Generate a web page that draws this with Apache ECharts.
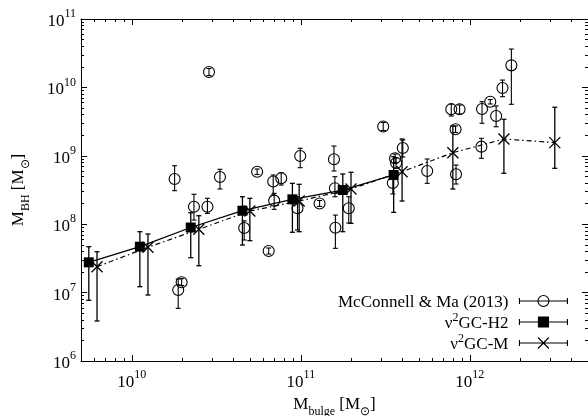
<!DOCTYPE html>
<html><head><meta charset="utf-8">
<script src="https://cdn.jsdelivr.net/npm/echarts@6/dist/echarts.min.js"></script>
<style>html,body{margin:0;padding:0;background:#fff}#c{width:588px;height:416px}</style>
</head><body><div id="c"></div>
<script>
// McConnell & Ma (2013) observations
const obsX = [1.79e10, 2.33e10, 2.80e10, 2.86e10, 3.32e10, 5.51e10, 6.86e10, 7.65e10, 6.95e10, 4.62e10, 6.45e10, 1.88e10, 1.97e10, 9.91e10, 1.57e11, 1.59e11, 1.29e11, 1.92e11, 9.55e10, 1.60e11, 3.07e11, 3.61e11, 3.66e11, 4.01e11, 3.50e11, 5.59e11, 7.76e11, 8.69e11, 8.23e11, 8.28e11, 1.17e12, 1.18e12, 1.32e12, 1.43e12, 1.56e12, 1.76e12];
const obsY = [4.58e8, 1.80e8, 1.80e8, 1.68e10, 4.90e8, 5.86e8, 4.21e8, 4.69e8, 2.21e8, 8.80e7, 4.06e7, 1.09e7, 1.42e7, 9.93e8, 8.89e8, 3.35e8, 2.01e8, 1.71e8, 1.71e8, 8.89e7, 2.68e9, 9.19e8, 7.85e8, 1.30e9, 4.00e8, 6.00e8, 4.79e9, 4.79e9, 2.44e9, 5.37e8, 1.36e9, 4.83e9, 6.18e9, 3.82e9, 9.80e9, 2.10e10];
const obsLo = [3.09e8, 1.15e8, 1.44e8, 1.49e10, 3.27e8, 5.33e8, 2.67e8, 3.74e8, 1.65e8, 5.87e7, 3.66e7, 5.89e6, 1.27e7, 6.70e8, 6.00e8, 2.52e8, 1.82e8, 1.04e8, 8.22e7, 4.44e7, 2.34e9, 7.98e8, 6.63e8, 9.60e8, 2.77e8, 3.96e8, 3.82e9, 4.08e9, 2.19e9, 3.87e8, 9.19e8, 2.99e9, 5.72e9, 2.66e9, 7.31e9, 5.66e9];
const obsHi = [7.16e8, 2.74e8, 2.39e8, 1.89e10, 6.35e8, 6.41e8, 5.24e8, 5.66e8, 2.83e8, 1.12e8, 4.49e7, 1.58e7, 1.60e7, 1.29e9, 1.39e9, 4.95e8, 2.22e8, 2.52e8, 2.52e8, 1.36e8, 3.07e9, 1.06e9, 9.29e8, 1.70e9, 5.80e8, 8.98e8, 5.72e9, 5.53e9, 2.73e9, 7.33e8, 1.80e9, 6.18e9, 6.65e9, 5.35e9, 1.28e10, 3.64e10];

// nu2GC-H2 model
const h2X = [5.56e9, 1.115e10, 2.23e10, 4.51e10, 8.91e10, 1.77e11, 3.54e11];
const h2Y = [2.77e7, 4.69e7, 8.95e7, 1.575e8, 2.31e8, 3.16e8, 5.24e8];
const h2Lo = [7.71e6, 1.22e7, 3.24e7, 4.96e7, 7.62e7, 7.77e7, 1.49e8];
const h2Hi = [4.69e7, 7.77e7, 1.47e8, 2.52e8, 3.96e8, 5.42e8, 9.7e8];

// nu2GC-M model
const mX = [6.22e9, 1.245e10, 2.49e10, 4.99e10, 9.77e10, 1.98e11, 3.97e11, 7.93e11, 1.59e12, 3.18e12];
const mY = [2.39e7, 4.59e7, 8.42e7, 1.56e8, 2.18e8, 3.27e8, 5.86e8, 1.11e9, 1.76e9, 1.56e9];
const mLo = [3.85e6, 9.22e6, 2.47e7, 5.74e7, 7.77e7, 1.03e8, 2.18e8, 3.27e8, 5.55e8, 6.56e8];
const mHi = [3.96e7, 7.19e7, 1.33e8, 2.39e8, 3.83e8, 5.74e8, 1.76e9, 2.73e9, 3.42e9, 5.12e9];

const names = ['McConnell & Ma (2013)', 'ν2GC-H2', 'ν2GC-M'];
const xRange = [5e9, 5e12];
const yRange = [1e6, 1e11];
const xMajor = [1e10, 1e11, 1e12];
const yMajor = [1e6, 1e7, 1e8, 1e9, 1e10, 1e11];

function minorTicks(range) {
  const out = [];
  for (let n = Math.floor(Math.log10(range[0])); n <= Math.ceil(Math.log10(range[1])); n++) {
    for (let m = 2; m <= 9; m++) {
      const v = m * Math.pow(10, n);
      if (v > range[0] * 1.0001 && v < range[1] * 0.9999) out.push(v);
    }
  }
  return out;
}
const xMinor = minorTicks(xRange);
const yMinor = minorTicks(yRange);

const FONT = 'Liberation Serif';
const black = '#000';

function powLabel(v) {
  const l = Math.log10(v);
  const e = Math.round(l);
  if (Math.abs(l - e) > 1e-6) return '';
  return '{b|10}{s|' + e + '}';
}
const tickRich = {
  b: {fontFamily: FONT, fontSize: 17, color: black, lineHeight: 22, verticalAlign: 'bottom'},
  s: {fontFamily: FONT, fontSize: 12, color: black, lineHeight: 12, verticalAlign: 'top'}
};

function xAxisDef(pos, major, showLabel) {
  return {
    type: 'log', logBase: 10, min: xRange[0], max: xRange[1], position: pos, gridIndex: 0,
    axisLine: {show: major, onZero: false, lineStyle: {color: black, width: 1}},
    axisTick: {show: true, inside: true, length: major ? 6 : 3, customValues: major ? xMajor : xMinor,
      lineStyle: {color: black, width: 1}},
    axisLabel: {show: showLabel, customValues: xMajor, formatter: powLabel, margin: 8, rich: tickRich,
      fontFamily: FONT, fontSize: 17, color: black},
    splitLine: {show: false}, minorTick: {show: false},
    name: showLabel ? '{b|M}{s|bulge}{b| [M}{s|⊙}{b|]}' : '',
    nameLocation: 'middle', nameGap: 31,
    nameTextStyle: {rich: {
      b: {fontFamily: FONT, fontSize: 17, color: black, lineHeight: 22, verticalAlign: 'top'},
      s: {fontFamily: FONT, fontSize: 12, color: black, lineHeight: 13, verticalAlign: 'bottom'}
    }}
  };
}
function yAxisDef(pos, major, showLabel) {
  return {
    type: 'log', logBase: 10, min: yRange[0], max: yRange[1], position: pos, gridIndex: 0,
    axisLine: {show: major, onZero: false, lineStyle: {color: black, width: 1}},
    axisTick: {show: true, inside: true, length: major ? 6 : 3, customValues: major ? yMajor : yMinor,
      lineStyle: {color: black, width: 1}},
    axisLabel: {show: showLabel, customValues: yMajor, formatter: powLabel, margin: 5, rich: tickRich,
      fontFamily: FONT, fontSize: 17, color: black},
    splitLine: {show: false}, minorTick: {show: false},
    name: showLabel ? '{b|M}{s|BH}{b| [M}{s|⊙}{b|]}' : '',
    nameLocation: 'middle', nameGap: 49, nameRotate: 90,
    nameTextStyle: {rich: {
      b: {fontFamily: FONT, fontSize: 17, color: black, lineHeight: 22, verticalAlign: 'top'},
      s: {fontFamily: FONT, fontSize: 12, color: black, lineHeight: 13, verticalAlign: 'bottom'}
    }}
  };
}

function errData(xs, lo, hi) { return xs.map((x, i) => [x, lo[i], hi[i]]); }
function pts(xs, ys) { return xs.map((x, i) => [x, ys[i]]); }

function errBar(name, data, cap, lw) {
  return {
    type: 'custom', name: name + ' err', data: data, z: 2, silent: true, clip: true,
    encode: {x: 0, y: [1, 2]},
    renderItem: function (params, api) {
      const x = api.value(0);
      const top = api.coord([x, api.value(2)]);
      const bot = api.coord([x, api.value(1)]);
      const st = {stroke: black, lineWidth: lw};
      return {type: 'group', children: [
        {type: 'line', shape: {x1: top[0], y1: top[1], x2: bot[0], y2: bot[1]}, style: st},
        {type: 'line', shape: {x1: top[0] - cap, y1: top[1], x2: top[0] + cap, y2: top[1]}, style: st},
        {type: 'line', shape: {x1: bot[0] - cap, y1: bot[1], x2: bot[0] + cap, y2: bot[1]}, style: st}
      ]};
    }
  };
}

const iconObs = 'path://M0,6L48,6M0,3L0,9M48,3L48,9M29.5,6A5.5,5.5 0 1 1 18.5,6A5.5,5.5 0 1 1 29.5,6Z';
const iconH2 = 'path://M0,6L48,6M0,3L0,9M48,3L48,9M19,1L29,1L29,11L19,11Z';
const iconM = 'path://M0,6L48,6M0,3L0,9M48,3L48,9M18.5,0.5L29.5,11.5M29.5,0.5L18.5,11.5';

const legendRich = {
  b: {fontFamily: FONT, fontSize: 17, color: black, lineHeight: 20, verticalAlign: 'bottom'},
  s: {fontFamily: FONT, fontSize: 12, color: black, lineHeight: 10, verticalAlign: 'top'}
};

const chart = echarts.init(document.getElementById('c'), null, {renderer: 'canvas'});
chart.setOption({
  animation: false,
  backgroundColor: '#fff',
  grid: {left: 81, right: 0, top: 19, bottom: 55, outerBoundsMode: 'none', containLabel: false},
  xAxis: [xAxisDef('bottom', true, true), xAxisDef('bottom', false, false),
          xAxisDef('top', true, false), xAxisDef('top', false, false)],
  yAxis: [yAxisDef('left', true, true), yAxisDef('left', false, false),
          yAxisDef('right', true, false), yAxisDef('right', false, false)],
  legend: {
    orient: 'vertical', align: 'right', right: 20, top: 294, padding: 0, itemGap: 1,
    itemWidth: 48, itemHeight: 12, selectedMode: false,
    textStyle: {fontFamily: FONT, fontSize: 17, color: black, padding: [0, 6, 0, 0], rich: legendRich},
    formatter: function (n) {
      if (n === names[0]) return '{b|' + n + '}';
      return '{b|ν}{s|2}{b|' + n.slice(2) + '}';
    },
    data: [
      {name: names[0], icon: iconObs, itemStyle: {color: 'rgba(0,0,0,0)', borderColor: black, borderWidth: 1.1}},
      {name: names[1], icon: iconH2, itemStyle: {color: black, borderColor: black, borderWidth: 1.1}},
      {name: names[2], icon: iconM, itemStyle: {color: 'rgba(0,0,0,0)', borderColor: black, borderWidth: 1.1}}
    ]
  },
  series: [
    errBar(names[0], errData(obsX, obsLo, obsHi), 2.5, 1.1),
    {
      type: 'scatter', name: names[0], data: pts(obsX, obsY), z: 3,
      symbol: 'circle', symbolSize: 11,
      itemStyle: {color: 'rgba(0,0,0,0)', borderColor: black, borderWidth: 1.1, opacity: 1}
    },
    errBar(names[1], errData(h2X, h2Lo, h2Hi), 2.5, 1.3),
    {
      type: 'line', name: names[1], data: pts(h2X, h2Y), z: 4,
      symbol: 'rect', symbolSize: 10, showSymbol: true,
      lineStyle: {color: black, width: 1.3, type: 'solid'},
      itemStyle: {color: black, borderColor: black, borderWidth: 0}
    },
    errBar(names[2], errData(mX, mLo, mHi), 2.5, 1.3),
    {
      type: 'line', name: names[2], data: pts(mX, mY), z: 4,
      symbol: 'path://M0,0L10,10M10,0L0,10', symbolSize: 11, showSymbol: true,
      lineStyle: {color: black, width: 1.2, type: [5, 3, 1.5, 3]},
      itemStyle: {color: 'rgba(0,0,0,0)', borderColor: black, borderWidth: 1.3}
    }
  ]
});
</script>
</body></html>
